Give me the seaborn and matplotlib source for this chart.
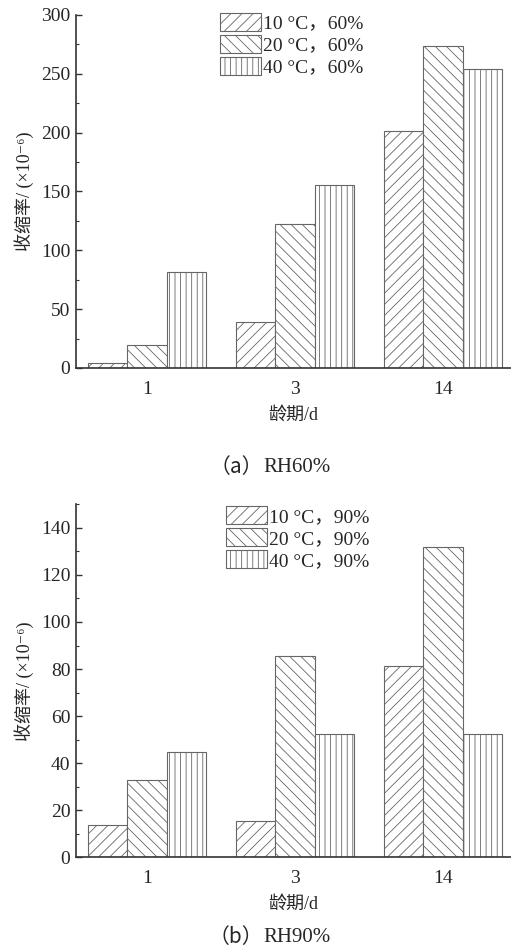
import pandas as pd
import matplotlib
matplotlib.use("Agg")
import matplotlib.pyplot as plt
from matplotlib.ticker import MultipleLocator
import seaborn as sns

sns.set_style("ticks")
plt.rcParams['font.family'] = ['Liberation Serif', 'Noto Sans CJK SC', 'DejaVu Serif']
plt.rcParams['hatch.linewidth'] = 0.6

# data
ages = ["1", "3", "14"]
temps = ["10 °C", "20 °C", "40 °C"]
rh60_10 = [4, 38.8, 201.8]
rh60_20 = [19.2, 122, 273.4]
rh60_40 = [81.2, 155.1, 253.9]
rh90_10 = [13.6, 15.6, 81.5]
rh90_20 = [33.0, 85.4, 131.9]
rh90_40 = [44.7, 52.4, 52.4]
hatches = ["///", "\\\\\\", "|||"]


def make_df(series, rh):
    rows = []
    for t, vals in zip(temps, series):
        for a, v in zip(ages, vals):
            rows.append({"age": a, "value": v, "cond": f"{t}，{rh}"})
    return pd.DataFrame(rows)


df60 = make_df([rh60_10, rh60_20, rh60_40], "60%")
df90 = make_df([rh90_10, rh90_20, rh90_40], "90%")

fig = plt.figure(figsize=[5.11, 9.49], dpi=100)
ax1 = fig.add_axes([76 / 511, 1 - 368 / 949, 435 / 511, 353 / 949])
ax2 = fig.add_axes([76 / 511, 1 - 857.3 / 949, 435 / 511, 353 / 949])


def draw(ax, df, ymax, major, minor, leg_x, leg_y):
    sns.barplot(data=df, x="age", y="value", hue="cond", order=ages,
                palette=["white"] * 3, edgecolor="#555555", linewidth=0.8,
                saturation=1, legend=False, ax=ax)
    for cont, h in zip(ax.containers, hatches):
        for p in cont.patches:
            p.set_hatch(h)
            p.set_edgecolor("#666666")
    ax.legend(handles=ax.containers, labels=list(df["cond"].unique()),
              loc="upper left", bbox_to_anchor=(leg_x, leg_y), frameon=False,
              fontsize=14, handlelength=2.1, handleheight=1.05,
              labelspacing=0.12, handletextpad=0.1, borderpad=0,
              borderaxespad=0)
    ax.set_xlim(-0.48, 2.46)
    ax.set_ylim(0, ymax)
    ax.yaxis.set_major_locator(MultipleLocator(major))
    ax.yaxis.set_minor_locator(MultipleLocator(minor))
    ax.tick_params(axis="y", which="major", direction="in", length=4,
                   width=1, labelsize=14, pad=4, color="#333333")
    ax.tick_params(axis="y", which="minor", direction="in", length=2.5,
                   width=0.8, color="#333333")
    ax.tick_params(axis="x", length=0, labelsize=14, pad=9.5)
    for s in ["top", "right"]:
        ax.spines[s].set_visible(False)
    for s in ["left", "bottom"]:
        ax.spines[s].set_color("#333333")
        ax.spines[s].set_linewidth(1.2)
    ax.set_xlabel("龄期/d", fontsize=13, labelpad=6)
    ax.set_ylabel("收缩率/ (×10⁻⁶)", fontsize=13, labelpad=5)


draw(ax1, df60, 300, 50, 25, 0.331, 1.006)
draw(ax2, df90, 150, 20, 10, 0.345, 0.995)

# captions: full-width brackets from the CJK font, the rest in serif
for tag, rest, y in [("（a）", "RH60%", 467), ("（b）", "RH90%", 937)]:
    fig.text(263 / 511, 1 - y / 949, tag, ha="right", va="center",
             fontsize=15, family="Noto Sans CJK SC")
    fig.text(263 / 511, 1 - y / 949, rest, ha="left", va="center", fontsize=15)

fig.savefig("out.png", dpi=100)
